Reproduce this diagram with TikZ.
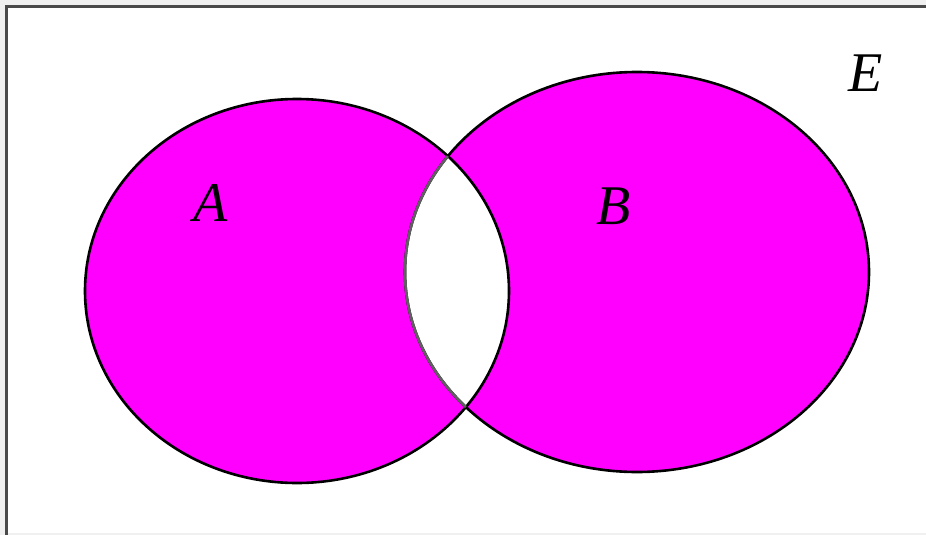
\documentclass[tikz,border=0pt]{standalone}
\usepackage{fontspec}
\setmainfont{Liberation Serif}
\definecolor{mag}{HTML}{FF00FF}
\definecolor{frame}{HTML}{4A4A4A}
\begin{document}
\begin{tikzpicture}[x=1pt,y=-1pt,
  setlabel/.style={font=\fontsize{56}{64}\selectfont\itshape, inner sep=0pt},
  outline/.style={line width=2.6pt}]
\useasboundingbox (0,0) rectangle (926,535);
\fill[gray!12] (0,0) rectangle (926,535);
\fill[white] (7,7) rectangle (926,533);
\draw[frame, line width=3pt] (6.5,535) -- (6.5,6.5) -- (926,6.5);
% fills
\fill[mag, even odd rule] (297,291) ellipse [x radius=212, y radius=192]
                          (637,272) ellipse [x radius=232, y radius=200];
% outlines
\draw[black, outline] (297,291) ellipse [x radius=212, y radius=192];
\draw[black, outline] (637,272) ellipse [x radius=232, y radius=200];
\begin{scope}
  \clip (297,291) ellipse [x radius=212, y radius=192];
  \draw[gray!75!black, outline] (637,272) ellipse [x radius=232, y radius=200];
\end{scope}
\node[setlabel] (lA) at (211,203) {A};
\node[setlabel] (lB) at (614,206) {B};
\node[setlabel] (lE) at (866,73) {E};
\end{tikzpicture}
\end{document}
